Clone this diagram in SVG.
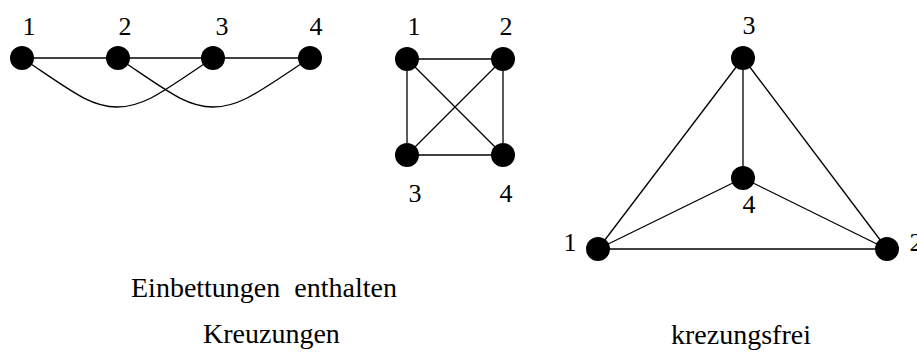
<svg xmlns="http://www.w3.org/2000/svg" width="917" height="352" viewBox="0 0 917 352">
<style>
.e{stroke:#000;stroke-width:1.3;fill:none}
.n{fill:#000}
text{fill:#000;font-family:'Liberation Serif','Times New Roman',serif}
.d{font-size:26px;text-anchor:middle}
.c{font-size:28px}
</style>
<rect width="917" height="352" fill="#fff"/>
<g id="connectors">
<line class="e" x1="22" y1="58" x2="310" y2="58"/>
<path class="e" d="M22,58 C70,90 90,107 117,107 C145,107 165,90 213,58"/>
<path class="e" d="M118,58 C166,90 186,107 213,107 C241,107 261,90 310,58"/>
<line class="e" x1="407" y1="59" x2="503" y2="59"/>
<line class="e" x1="407" y1="155" x2="503" y2="155"/>
<line class="e" x1="407" y1="59" x2="407" y2="155"/>
<line class="e" x1="503" y1="59" x2="503" y2="155"/>
<line class="e" x1="407" y1="59" x2="503" y2="155"/>
<line class="e" x1="503" y1="59" x2="407" y2="155"/>
<line class="e" x1="598" y1="249" x2="743" y2="58"/>
<line class="e" x1="887" y1="249" x2="743" y2="58"/>
<line class="e" x1="743" y1="58" x2="743" y2="178"/>
<line class="e" x1="598" y1="249" x2="743" y2="178"/>
<line class="e" x1="887" y1="249" x2="743" y2="178"/>
<line class="e" x1="598" y1="249" x2="887" y2="249"/>
</g>
<g id="a1"><circle class="n" cx="22" cy="58" r="12"/><text class="d" x="29" y="35">1</text></g>
<g id="a2"><circle class="n" cx="118" cy="58" r="12"/><text class="d" x="125" y="35">2</text></g>
<g id="a3"><circle class="n" cx="213" cy="58" r="12"/><text class="d" x="222" y="35">3</text></g>
<g id="a4"><circle class="n" cx="310" cy="58" r="12"/><text class="d" x="316" y="35">4</text></g>
<g id="b1"><circle class="n" cx="407" cy="59" r="12"/><text class="d" x="414" y="35">1</text></g>
<g id="b2"><circle class="n" cx="503" cy="59" r="12"/><text class="d" x="506" y="35">2</text></g>
<g id="b3"><circle class="n" cx="407" cy="155" r="12"/><text class="d" x="415" y="202">3</text></g>
<g id="b4"><circle class="n" cx="503" cy="155" r="12"/><text class="d" x="506" y="202">4</text></g>
<g id="c1"><circle class="n" cx="598" cy="249" r="12"/><text class="d" x="570" y="251">1</text></g>
<g id="c2"><circle class="n" cx="887" cy="249" r="12"/><text class="d" x="916" y="251">2</text></g>
<g id="c3"><circle class="n" cx="743" cy="58" r="12"/><text class="d" x="749" y="34">3</text></g>
<g id="c4"><circle class="n" cx="743" cy="178" r="12"/><text class="d" x="749" y="213">4</text></g>
<g id="captions">
<text class="c" x="131" y="297" xml:space="preserve">Einbettungen  enthalten</text>
<text class="c" x="203" y="343">Kreuzungen</text>
<text class="c" x="671" y="344">krezungsfrei</text>
</g>
</svg>
